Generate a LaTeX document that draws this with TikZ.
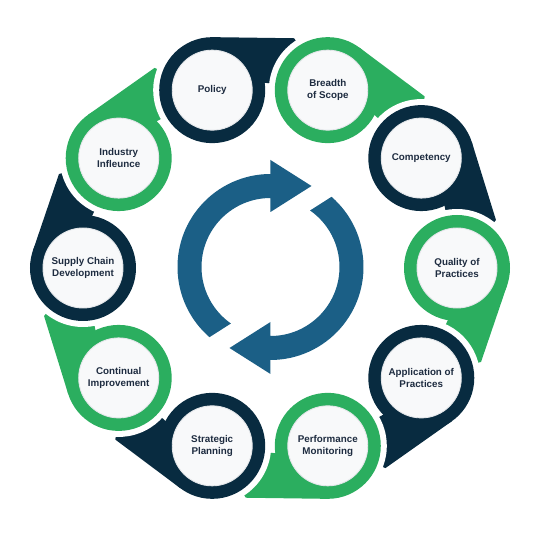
\documentclass[tikz,border=0pt]{standalone}
\usepackage{fontspec}
\setmainfont{Liberation Sans}
\definecolor{navy}{HTML}{082B40}
\definecolor{leaf}{HTML}{2BAE5F}
\definecolor{cycleblue}{HTML}{1B5F86}
\definecolor{labeltext}{HTML}{1E2C40}
\definecolor{facefill}{HTML}{F8F9FA}
\definecolor{faceline}{HTML}{E3E6E9}
\tikzset{
  stagetext/.style={text=labeltext, font=\bfseries\fontsize{9.8}{11.8}\selectfont, align=center},
  stageface/.style={circle, fill=facefill, draw=faceline, line width=0.9pt, inner sep=0pt, minimum size=80pt}
}
\begin{document}
\begin{tikzpicture}[x=1pt,y=1pt]
	\useasboundingbox (-270,-266) rectangle (276,268);
	
	% tails
	\foreach \k/\col in {0/navy,1/leaf,2/navy,3/leaf,4/navy,5/leaf,6/navy,7/leaf,8/navy,9/leaf}{
		\pgfmathsetmacro\ang{108-36*\k}
		\begin{scope}[rotate=\ang]
			\fill[\col] (237.18,-17.06) -- (-24:231) -- (-36:187) -- (177.80,-52.19) -- (187,0) -- cycle;
		\end{scope}
	}
	
	% white gaps
	\foreach \k in {0,...,9}{
		\pgfmathsetmacro\ang{108-36*\k}
		\begin{scope}[rotate=\ang]
			\fill[white] (187,0) -- ++(-15:59) arc[start angle=-15, end angle=225, radius=59] -- cycle;
		\end{scope}
	}
	
	% circles
	\foreach \k/\col/\txt in {0/navy/Policy, 1/leaf/Breadth\\of Scope, 2/navy/Competency, 3/leaf/Quality of\\Practices, 4/navy/Application of\\Practices, 5/leaf/Performance\\Monitoring, 6/navy/Strategic\\Planning, 7/leaf/Continual\\Improvement, 8/navy/Supply Chain\\Development, 9/leaf/Industry\\Infleunce}{
		\pgfmathsetmacro\ang{108-36*\k}
		\node (ring\k) [circle, fill=\col, inner sep=0pt, minimum size=106pt] at (\ang:187) {};
		\node (stage\k) [stageface, stagetext] at (ring\k) {\txt};
	}
	
	% cycle arrows
	\foreach \r in {0,180}{
		\begin{scope}[shift={(0.5,1)}, rotate=\r]
			\fill[cycleblue] (49:93) arc[start angle=49, end angle=-90, radius=93] -- (0,-107) -- (-41,-81) -- (0,-55) -- (0,-69) arc[start angle=-90, end angle=55, radius=69] -- cycle;
		\end{scope}
	}
\end{tikzpicture}
\end{document}
